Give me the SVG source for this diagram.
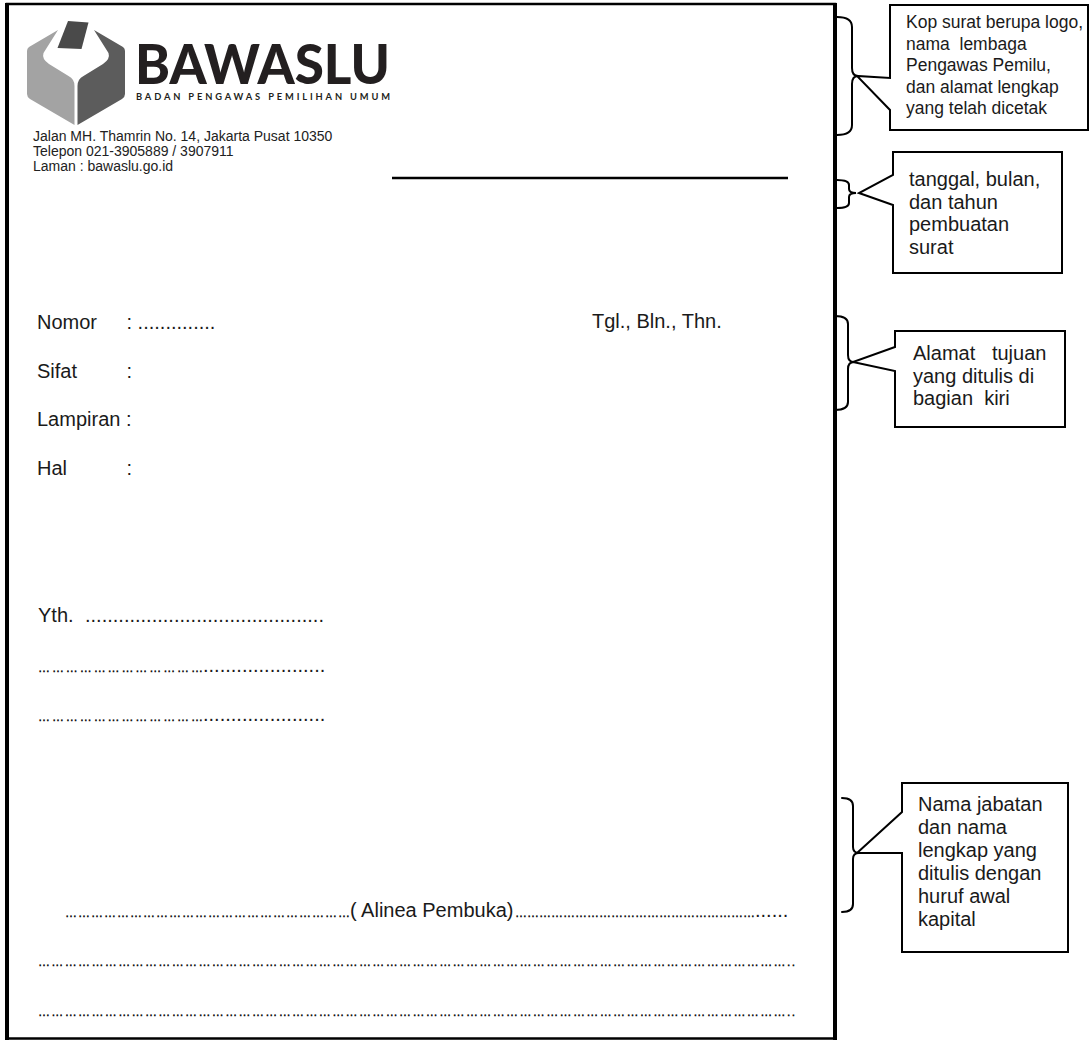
<svg xmlns="http://www.w3.org/2000/svg" width="1091" height="1040" viewBox="0 0 1091 1040">
<style>
  .t { font-family: "Liberation Sans", Arial, sans-serif; fill: #1a1a1a; }
  .body { font-size: 20px; }
  .addr { font-size: 14px; fill: #222; }
  .el { font-size: 12px; fill: #000; stroke: #000; stroke-width: 0.35px; }
  .box { fill: #fff; stroke: #000; stroke-width: 2; stroke-linejoin: miter; }
  .brace { fill: none; stroke: #000; stroke-width: 2; stroke-linecap: round; }
  .ct { font-size: 20px; }
  .ct1 { font-size: 17.5px; }
</style>
<rect width="1091" height="1040" fill="#fff"/>

<g id="page">
  <rect x="7" y="4" width="828" height="1034.5" fill="none" stroke="#000" stroke-width="2.5"/>
  <line x1="7" y1="3" x2="7" y2="1040" stroke="#000" stroke-width="4"/>
  <line x1="835" y1="3" x2="835" y2="1040" stroke="#000" stroke-width="4"/>
</g>

<g id="logo">
  <path d="M 58,30 L 29,47 Q 27,48.5 27,51 L 27,94 Q 27,97 30,99 L 74.5,125 L 74.5,86 Q 74.5,79 68.5,76 L 49,64 Q 41.5,59 43.5,53 Z" fill="#a3a3a3"/>
  <path d="M 94,30 L 123,47 Q 125,48.5 125,51 L 125,94 Q 125,97 122,99 L 77.5,125 L 77.5,86 Q 77.5,79 83.5,76 L 103,64 Q 110.5,59 108.5,53 Z" fill="#5c5c5c"/>
  <path d="M 68,21 L 88.5,22.5 L 81.5,49 L 57.5,48 Z" fill="#4a4a4a"/>
  <text x="135" y="84" font-family="Lato, 'Open Sans', sans-serif" font-weight="900" font-size="56" fill="#231f20" textLength="255" lengthAdjust="spacingAndGlyphs">BAWASLU</text>
  <text x="136" y="100" font-family="Lato, 'Open Sans', sans-serif" font-weight="700" font-size="9.3" fill="#231f20" textLength="254" lengthAdjust="spacing">BADAN PENGAWAS PEMILIHAN UMUM</text>
</g>

<g id="address">
  <text class="t addr" x="33" y="141">Jalan MH. Thamrin No. 14, Jakarta Pusat 10350</text>
  <text class="t addr" x="33" y="156">Telepon 021-3905889 / 3907911</text>
  <text class="t addr" x="33" y="171">Laman : bawaslu.go.id</text>
  <line x1="392" y1="178" x2="788" y2="178" stroke="#000" stroke-width="2.5"/>
</g>

<g id="fields">
  <text class="t body" x="37" y="329">Nomor</text>
  <text class="t body" x="126.5" y="329">: ..............</text>
  <text class="t body" x="592" y="328">Tgl., Bln., Thn.</text>
  <text class="t body" x="37" y="377.5">Sifat</text>
  <text class="t body" x="126.5" y="377.5">:</text>
  <text class="t body" x="37" y="426">Lampiran :</text>
  <text class="t body" x="37" y="475">Hal</text>
  <text class="t body" x="126.5" y="475">:</text>
</g>

<g id="recipient">
  <text class="t body" x="38" y="622">Yth.</text>
  <text class="t body" x="85" y="622">...........................................</text>
  <text class="t el" x="38" y="672" textLength="165" lengthAdjust="spacing">………………………………</text>
  <text class="t body" x="203" y="672">......................</text>
  <text class="t el" x="38" y="721" textLength="165" lengthAdjust="spacing">………………………………</text>
  <text class="t body" x="203" y="721">......................</text>
</g>

<g id="paragraph">
  <text class="t el" x="65" y="917" textLength="285" lengthAdjust="spacing">…………………………………………………………</text>
  <text class="t body" x="350" y="917">( Alinea Pembuka)</text>
  <text class="t el" x="515" y="917" textLength="240" lengthAdjust="spacing">……………………………………………………</text>
  <text class="t body" x="755" y="917">......</text>
  <text class="t el" x="38" y="966" textLength="757" lengthAdjust="spacing">……………………………………………………………………………………………………………………………………………………..</text>
  <text class="t el" x="38" y="1016" textLength="757" lengthAdjust="spacing">……………………………………………………………………………………………………………………………………………………..</text>
</g>

<g id="connectors">
  <path class="brace" d="M 837,17 Q 852,17 852,27 L 852,68 Q 852,76 858,76 Q 852,76 852,84 L 852,125 Q 852,135 837,135"/>
  <path class="brace" d="M 837,180 Q 849,180 849,185 L 849,189 Q 849,193 856,193 Q 849,193 849,197 L 849,203 Q 849,208 837,208"/>
  <path class="brace" d="M 835,316 Q 848,316 848,324 L 848,355 Q 848,362 854,362 Q 848,362 848,369 L 848,402 Q 848,410 835,410"/>
  <path class="brace" d="M 842,798 Q 853,798 853,806 L 853,847 Q 853,853 859,853 Q 853,853 853,859 L 853,904 Q 853,912 842,912"/>
</g>

<g id="callout-kop">
  <path class="box" d="M 890,5 H 1088 V 130 H 890 V 110 L 857,76 L 890,78 Z"/>
  <text class="t ct1">
    <tspan x="906" y="28">Kop surat berupa logo,</tspan>
    <tspan x="906" y="49.5" xml:space="preserve">nama  lembaga</tspan>
    <tspan x="906" y="71">Pengawas Pemilu,</tspan>
    <tspan x="906" y="92.5">dan alamat lengkap</tspan>
    <tspan x="906" y="114">yang telah dicetak</tspan>
  </text>
</g>

<g id="callout-tanggal">
  <path class="box" d="M 893,152 H 1062 V 273 H 893 V 205 L 859,193 L 893,175 Z"/>
  <text class="t ct">
    <tspan x="909" y="186">tanggal, bulan,</tspan>
    <tspan x="909" y="208.5">dan tahun</tspan>
    <tspan x="909" y="231">pembuatan</tspan>
    <tspan x="909" y="253.5">surat</tspan>
  </text>
</g>

<g id="callout-alamat">
  <path class="box" d="M 895,331 H 1065 V 427 H 895 V 371 L 853,362 L 895,347 Z"/>
  <text class="t ct" xml:space="preserve"><tspan x="913" y="360">Alamat   tujuan</tspan><tspan x="913" y="382.5">yang ditulis di</tspan><tspan x="913" y="405">bagian  kiri</tspan></text>
</g>

<g id="callout-nama">
  <path class="box" d="M 902,783 H 1068 V 952 H 902 V 853 L 857,853 L 902,812 Z"/>
  <text class="t ct">
    <tspan x="918" y="811">Nama jabatan</tspan>
    <tspan x="918" y="834">dan nama</tspan>
    <tspan x="918" y="857">lengkap yang</tspan>
    <tspan x="918" y="880">ditulis dengan</tspan>
    <tspan x="918" y="903">huruf awal</tspan>
    <tspan x="918" y="926">kapital</tspan>
  </text>
</g>
</svg>
